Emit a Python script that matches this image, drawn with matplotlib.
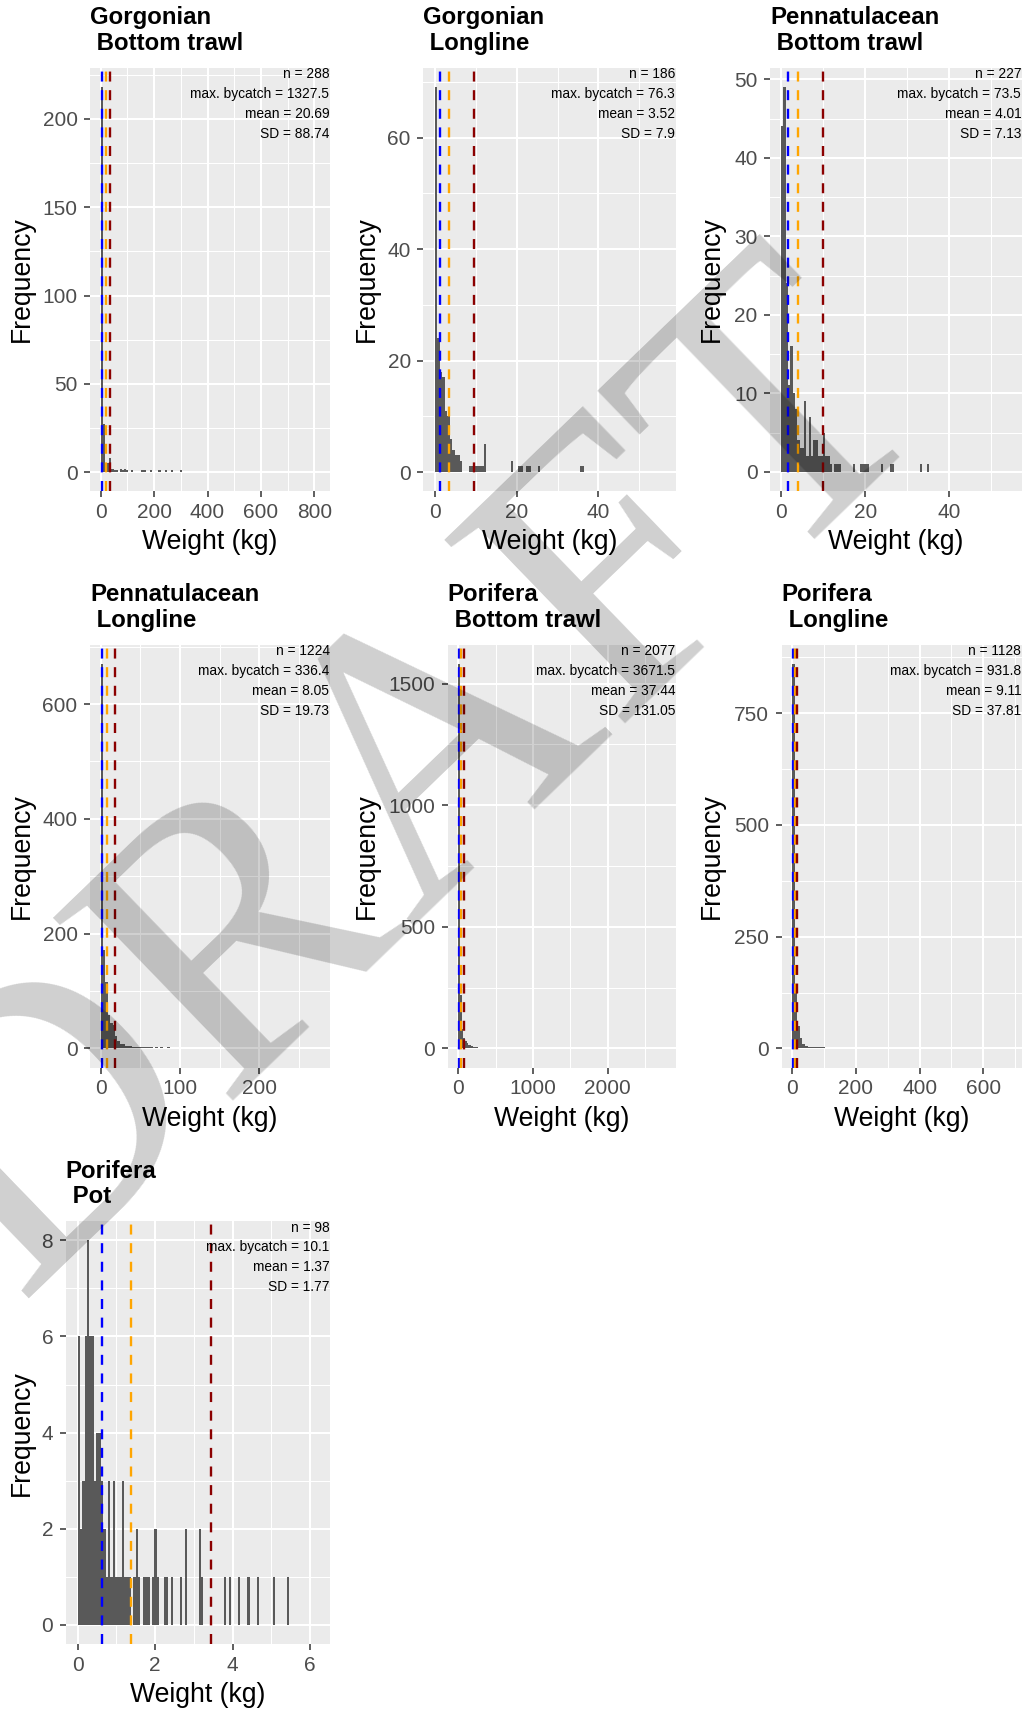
import matplotlib
matplotlib.use("Agg")
import matplotlib.pyplot as plt
import numpy as np

plt.rcParams["font.family"] = ["Liberation Sans", "DejaVu Sans"]
plt.rcParams["lines.scale_dashes"] = False

# ---------------- data ----------------
titles = [
    ("Gorgonian", "Bottom trawl"),
    ("Gorgonian", "Longline"),
    ("Pennatulacean", "Bottom trawl"),
    ("Pennatulacean", "Longline"),
    ("Porifera", "Bottom trawl"),
    ("Porifera", "Longline"),
    ("Porifera", "Pot"),
]
n_obs = [288, 186, 227, 1224, 2077, 1128, 98]
max_bycatch = ["1327.5", "76.3", "73.5", "336.4", "3671.5", "931.8", "10.1"]
mean_vals = ["20.69", "3.52", "4.01", "8.05", "37.44", "9.11", "1.37"]
sd_vals = ["88.74", "7.9", "7.13", "19.73", "131.05", "37.81", "1.77"]

# bin widths (kg) and counts per bin starting at 0
bin_widths = [8.0, 0.6, 0.55, 3.0, 22.0, 8.0, 0.06]

gorg_bt_counts = [218, 27, 5, 5, 8, 2, 1, 1, 0, 2, 1, 2, 1, 0, 1, 0, 0, 0, 0, 1, 1,
                  0, 0, 1, 0, 0, 0, 1, 0, 0, 1, 0, 0, 1, 0, 0, 0, 1]
gorg_ll_counts = [69, 24, 18, 17, 11, 10, 6, 4, 3, 3, 2, 0, 0, 0, 1, 1, 1, 1, 1, 1, 5,
                  0, 0, 0, 0, 0, 0, 0, 0, 0, 0, 2, 0, 0, 1, 1, 0, 1, 1, 0, 0, 0, 1,
                  0, 0, 0, 0, 0, 0, 0, 0, 0, 0, 0, 0, 0, 0, 0, 0, 1, 1]
penn_bt_counts = [44, 49, 24, 11, 16, 10, 8, 4, 3, 3, 9, 2, 7, 2, 4, 4, 2, 2, 5, 2, 2,
                  1, 0, 1, 1, 1, 0, 0, 0, 0, 0, 1, 0, 0, 1, 1, 1, 1, 0, 0, 0, 0, 0,
                  1, 0, 0, 0, 1, 1, 0, 0, 0, 0, 0, 0, 0, 0, 0, 0, 0, 1, 0, 0, 1]
penn_ll_counts = [670, 172, 115, 59, 45, 40, 22, 12, 8, 7, 5, 5, 4, 3, 3, 3, 2, 2, 2,
                  2, 2, 2, 1, 2, 1, 2, 1, 1, 2, 1, 1, 0, 1, 0, 0, 0, 0, 1, 0, 0, 0,
                  1, 0, 0, 1, 0, 0, 0, 1, 0, 0, 1, 0, 0, 0, 0, 1, 0, 0, 0, 0, 0, 0,
                  0, 0, 0, 0, 0, 0, 0, 1]
pori_bt_counts = [1582, 220, 80, 44, 30, 22, 15, 12, 8, 6, 5, 4, 3, 3, 2, 2, 2, 2,
                  1, 2, 1, 1, 1, 1, 1, 0, 1, 1, 0, 1, 1, 0, 1, 0, 0, 1, 0, 0, 0, 0,
                  0, 0, 0, 0, 0, 0, 0, 0, 0, 0, 0, 0, 0, 0, 1]
pori_ll_counts = [861, 130, 50, 24, 10, 6, 4, 3, 3, 2, 2, 2, 2, 1, 1, 1, 0, 1, 1, 1,
                  0, 0, 0, 0, 0, 0, 0, 1, 0, 0, 0, 0, 0, 0, 0, 0, 1, 0, 0, 0, 0, 0,
                  0, 0, 0, 0, 0, 0, 0, 0, 0, 0, 0, 0, 1]
pori_pot_counts = [6, 2, 3, 6, 8, 6, 6, 3, 4, 4, 3, 2, 1, 3, 1, 3, 1, 1, 1, 3, 1, 1, 1,
                   0, 1, 2, 1, 0, 1, 1, 1, 0, 1, 2, 1, 0, 0, 1, 1, 0, 1, 0, 0, 0, 1,
                   0, 2, 0, 0, 0, 0, 0, 2, 1, 0, 0, 0, 0, 0, 0, 0, 0, 0, 1, 0, 1, 0,
                   0, 0, 1, 0, 0, 0, 1, 0, 0, 0, 1, 0, 0, 0, 0, 0, 0, 1, 0, 0, 0, 0,
                   0, 1]
all_counts = [gorg_bt_counts, gorg_ll_counts, penn_bt_counts, penn_ll_counts,
              pori_bt_counts, pori_ll_counts, pori_pot_counts]

# reference lines: blue (median), orange (mean), darkred (upper)
median_lines = [3.7, 1.22, 1.66, 1.6, 9.0, 3.0, 0.62]
mean_lines = [20.69, 3.52, 4.01, 8.05, 37.44, 9.11, 1.37]
upper_lines = [35.0, 9.63, 9.9, 18.5, 72.0, 15.7, 3.43]

x_major = [[0, 200, 400, 600, 800], [0, 20, 40], [0, 20, 40], [0, 100, 200],
           [0, 1000, 2000], [0, 200, 400, 600], [0, 2, 4, 6]]
y_major = [[0, 50, 100, 150, 200], [0, 20, 40, 60], [0, 10, 20, 30, 40, 50],
           [0, 200, 400, 600], [0, 500, 1000, 1500], [0, 250, 500, 750],
           [0, 2, 4, 6, 8]]
x_limits = [(-40.0, 858.5), (-2.87, 58.95), (-2.61, 57.2), (-13.5, 289.0),
            (-142.0, 2910.0), (-33.3, 720.7), (-0.31, 6.516)]
y_limits = [(-10.7, 228.9), (-3.4, 72.5), (-2.45, 51.45), (-33.5, 703.7),
            (-79.0, 1661.0), (-43.0, 904.0), (-0.4, 8.4)]

# ---------------- layout (pixels) ----------------
W, H, DPI = 1036, 1711, 100
ROW = 576.6
panel_left = [90, 423.3, 770, 90, 447.7, 781.7, 65.7]
panel_right = [330, 675.7, 1021.7, 330, 675.7, 1021.7, 330]
panel_row = [0, 0, 0, 1, 1, 1, 2]
panel_col = [0, 1, 2, 0, 1, 2, 0]
PANEL_TOP0, PANEL_BOT0 = 67.9, 491.0

fig = plt.figure(figsize=(W / DPI, H / DPI), dpi=DPI)


def fx(x):
    return x / W


def fy(y):
    return 1 - y / H


for i in range(7):
    off = panel_row[i] * ROW
    top, bot = PANEL_TOP0 + off, PANEL_BOT0 + off
    l, r = panel_left[i], panel_right[i]
    ax = fig.add_axes([fx(l), fy(bot), (r - l) / W, (bot - top) / H])
    ax.set_facecolor("#EBEBEB")
    for s in ax.spines.values():
        s.set_visible(False)

    counts = np.array(all_counts[i], dtype=float)
    bw = bin_widths[i]
    edges = np.arange(len(counts)) * bw
    ax.bar(edges, counts, width=bw, align="edge", color="#595959",
           linewidth=0, zorder=2)

    dash = (0, (7.2, 6.2))
    ax.axvline(median_lines[i], color="#0000FF", lw=1.7, ls=dash, zorder=3)
    ax.axvline(mean_lines[i], color="#FFA500", lw=1.7, ls=dash, zorder=3)
    ax.axvline(upper_lines[i], color="#8B0000", lw=1.7, ls=dash, zorder=3)

    xm, ym = x_major[i], y_major[i]
    ax.set_xlim(*x_limits[i])
    ax.set_ylim(*y_limits[i])
    ax.set_xticks(xm)
    ax.set_yticks(ym)
    sx, sy = xm[1] - xm[0], ym[1] - ym[0]
    xmin_ = np.arange(xm[0] - 5 * sx + sx / 2, xm[-1] + 5 * sx, sx)
    ymin_ = np.arange(ym[0] - 5 * sy + sy / 2, ym[-1] + 5 * sy, sy)
    xmin_ = xmin_[(xmin_ > x_limits[i][0]) & (xmin_ < x_limits[i][1])]
    ymin_ = ymin_[(ymin_ > y_limits[i][0]) & (ymin_ < y_limits[i][1])]
    ax.set_xticks(xmin_, minor=True)
    ax.set_yticks(ymin_, minor=True)
    ax.tick_params(which="minor", length=0)
    ax.tick_params(which="major", length=4.5, width=1.1, color="#333333",
                   labelsize=15, labelcolor="#4D4D4D")
    ax.tick_params(axis="y", pad=4.5)
    ax.tick_params(axis="x", pad=4.0)
    ax.grid(which="major", color="white", lw=1.5)
    ax.grid(which="minor", color="white", lw=0.75)
    ax.set_axisbelow(True)

    # stats annotation
    lines = [f"n = {n_obs[i]}", f"max. bycatch = {max_bycatch[i]}",
             f"mean = {mean_vals[i]}", f"SD = {sd_vals[i]}"]
    for k, t in enumerate(lines):
        fig.text(fx(r - 0.5), fy(top + 6.4 + 19.9 * k), t, ha="right",
                 va="center", fontsize=9.9, color="black")

    # title
    t1, t2 = titles[i]
    fig.text(fx(l), fy(24.3 + off), t1, ha="left", va="baseline",
             fontsize=17.3, fontweight="bold", color="black")
    fig.text(fx(l), fy(50.0 + off), " " + t2, ha="left", va="baseline",
             fontsize=17.3, fontweight="bold", color="black")

    # axis titles
    cell_x = panel_col[i] * W / 3
    fig.text(fx(cell_x + 21.5), fy((top + bot) / 2), "Frequency", rotation=90,
             ha="center", va="center", fontsize=19.2, color="black")
    fig.text(fx((l + r) / 2), fy(542 + off), "Weight (kg)", ha="center",
             va="center", fontsize=19.2, color="black")

# watermark
fig.text(fx(415), fy(785), "DRAFT", rotation=44, ha="center", va="center",
         fontsize=282, family=["Liberation Serif", "DejaVu Serif"],
         color="black", alpha=0.19, zorder=100)

fig.savefig("out.png", dpi=DPI)
